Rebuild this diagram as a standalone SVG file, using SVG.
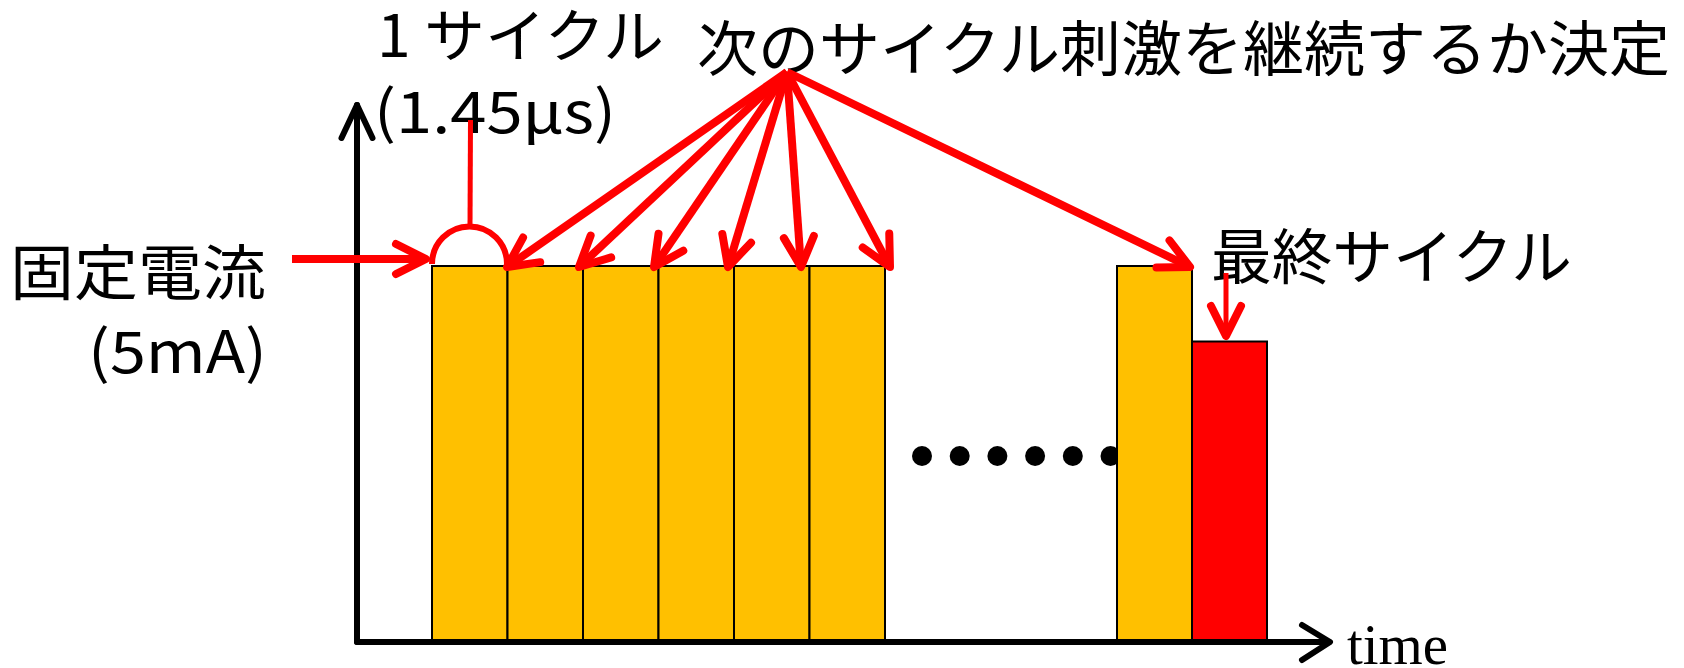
<svg xmlns="http://www.w3.org/2000/svg" width="1684" height="668" viewBox="0 0 1684 668">
<style>
.jp{font-family:"Noto Sans CJK JP","Noto Sans",sans-serif;fill:#000}
.tm{font-family:"Liberation Serif",serif;fill:#000}
.bar{fill:#FFC000;stroke:#000;stroke-width:2}
.red{fill:#FF0000;stroke:#000;stroke-width:2}
.arw{fill:none;stroke:#FF0000;stroke-width:8;stroke-linecap:butt}
.axis{fill:none;stroke:#000;stroke-width:6;stroke-linecap:round;stroke-linejoin:round}
</style>
<defs>
<marker id="ah" markerUnits="userSpaceOnUse" orient="auto" refX="0" refY="0" markerWidth="80" markerHeight="80" viewBox="-40 -40 80 80" overflow="visible">
<path d="M-30,-15 L0,0 L-30,15" fill="none" stroke="#FF0000" stroke-width="8" stroke-linecap="round" stroke-linejoin="round"/>
</marker>
</defs>
<rect width="1684" height="668" fill="#fff"/>

<g id="axes">
<polyline class="axis" points="341.5,138 357,105 372.5,138"/>
<line class="axis" x1="357" y1="105" x2="357" y2="642"/>
<line class="axis" x1="357" y1="642" x2="1329" y2="642"/>
<polyline class="axis" points="1302,625 1330,642 1302,660"/>
<text class="tm" x="1347" y="664" font-size="56" textLength="101" lengthAdjust="spacingAndGlyphs">time</text>
</g>

<g id="cycles">
<rect class="bar" x="432" y="266" width="75.5" height="374"/>
<rect class="bar" x="507.5" y="266" width="75.5" height="374"/>
<rect class="bar" x="583" y="266" width="75.5" height="374"/>
<rect class="bar" x="658.5" y="266" width="75.5" height="374"/>
<rect class="bar" x="734" y="266" width="75.5" height="374"/>
<rect class="bar" x="809.5" y="266" width="75.5" height="374"/>
</g>

<g id="dots">
<circle cx="922" cy="456" r="10"/>
<circle cx="959.7" cy="456" r="10"/>
<circle cx="997.4" cy="456" r="10"/>
<circle cx="1035.1" cy="456" r="10"/>
<circle cx="1072.8" cy="456" r="10"/>
<circle cx="1110.5" cy="456" r="10"/>
</g>

<g id="last-cycles">
<rect class="bar" x="1117" y="266" width="75" height="374"/>
<rect class="red" x="1192" y="341.5" width="75" height="298.5"/>
</g>

<g id="label-fixed-current">
<text class="jp" x="10" y="295" font-size="60" textLength="256" lengthAdjust="spacingAndGlyphs">固定電流</text>
<text class="jp" x="88" y="373" font-size="58" textLength="179" lengthAdjust="spacingAndGlyphs">(5mA)</text>
</g>

<g id="label-one-cycle">
<text class="jp" x="377" y="57" font-size="58" textLength="287" lengthAdjust="spacingAndGlyphs">1 サイクル</text>
<text class="jp" x="374" y="133" font-size="58" textLength="242" lengthAdjust="spacingAndGlyphs">(1.45μs)</text>
</g>

<g id="label-decide">
<text class="jp" x="697" y="71" font-size="60" textLength="973" lengthAdjust="spacingAndGlyphs">次のサイクル刺激を継続するか決定</text>
</g>

<g id="label-final">
<text class="jp" x="1211" y="279" font-size="60" textLength="361" lengthAdjust="spacingAndGlyphs">最終サイクル</text>
</g>

<g id="connectors">
<path d="M432,264 A37.5,37.5 0 0 1 507,264" fill="none" stroke="#FF0000" stroke-width="6"/>
<line x1="470.5" y1="120" x2="470" y2="227" stroke="#FF0000" stroke-width="5"/>
<line class="arw" x1="292" y1="259" x2="426" y2="259" marker-end="url(#ah)"/>
<line class="arw" x1="787" y1="72" x2="507" y2="267" marker-end="url(#ah)"/>
<line class="arw" x1="787" y1="72" x2="579" y2="267" marker-end="url(#ah)"/>
<line class="arw" x1="787" y1="72" x2="654" y2="267" marker-end="url(#ah)"/>
<line class="arw" x1="787" y1="72" x2="728" y2="267" marker-end="url(#ah)"/>
<line class="arw" x1="787" y1="72" x2="801" y2="267" marker-end="url(#ah)"/>
<line class="arw" x1="787" y1="72" x2="890" y2="267" marker-end="url(#ah)"/>
<line class="arw" x1="787" y1="72" x2="1190" y2="267" marker-end="url(#ah)"/>
<line x1="1226" y1="273" x2="1226" y2="336" stroke="#FF0000" stroke-width="5" marker-end="url(#ah)"/>
</g>
</svg>
